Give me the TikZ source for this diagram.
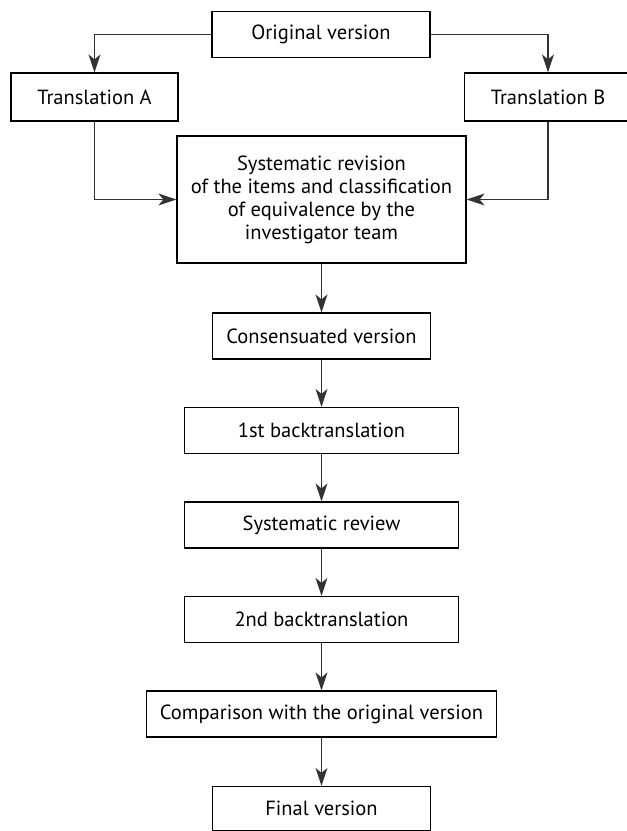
\documentclass[tikz,border=0pt]{standalone}
\usepackage{fontspec}
\setmainfont{PT Sans}
\usetikzlibrary{shapes,arrows.meta}
\tikzstyle{rec} = [rectangle,draw,text centered,line width=1.2pt,minimum height=46pt,inner sep=4pt]
\tikzstyle{arr} = [draw=black!80,line width=1.2pt,-{Stealth[length=18pt,width=12pt,inset=5pt]}]

\begin{document}
\begin{tikzpicture}[x=1pt,y=-1pt,node distance=94.5pt,font=\fontsize{20.5}{23}\selectfont]
    	\useasboundingbox (0,0) rectangle (627,831);

    	\node[rec,minimum width=218pt](original) at (321,34.5) {Original version};
    	\node[rec,minimum width=167pt,minimum height=48pt](transA) at (94.5,97) {Translation A};
    	\node[rec,minimum width=167pt,minimum height=48pt](transB) at (548,97) {Translation B};
    	\node[rec,minimum width=289pt,minimum height=127pt,align=center](revision) at (321.5,199.5) {Systematic revision\\of the items and classification\\of equivalence by the\\investigator team};
    	\node[rec,yshift=-42pt,minimum width=218pt,below of=revision](consensus) {Consensuated version};
    	\node[rec,minimum width=274pt,below of=consensus](backA) {1st backtranslation};
    	\node[rec,minimum width=274pt,below of=backA](review) {Systematic review};
    	\node[rec,minimum width=274pt,below of=review](backB) {2nd backtranslation};
    	\node[rec,minimum width=350pt,below of=backB](compare) {Comparison with the original version};
    	\node[rec,minimum width=218pt,minimum height=44pt,below of=compare](final) {Final version};

    	\draw[arr] (original.west) -| (transA.north);
    	\draw[arr] (original.east) -| (transB.north);
    	\draw[arr] (transA.south) |- (revision.west);
    	\draw[arr] (transB.south) |- (revision.east);
    	\draw[arr] (revision) -- (consensus);
    	\draw[arr] (consensus) -- (backA);
    	\draw[arr] (backA) -- (review);
    	\draw[arr] (review) -- (backB);
    	\draw[arr] (backB) -- (compare);
    	\draw[arr] (compare) -- (final);

\end{tikzpicture}
\end{document}
